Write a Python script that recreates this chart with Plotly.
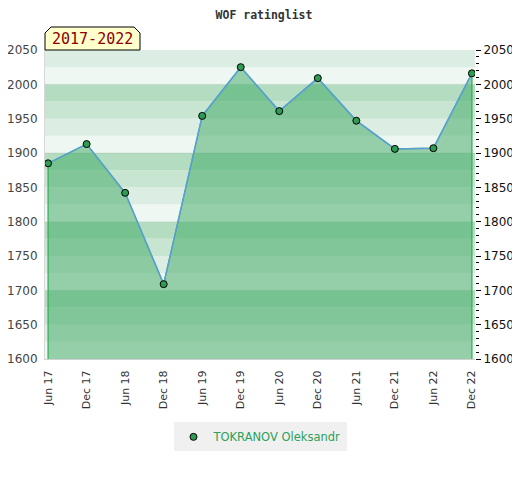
import plotly.graph_objects as go

periods = ["Jun 17", "Dec 17", "Jun 18", "Dec 18", "Jun 19", "Dec 19",
           "Jun 20", "Dec 20", "Jun 21", "Dec 21", "Jun 22", "Dec 22"]
ratings = [1885, 1913, 1842, 1709, 1954, 2025, 1961, 2009, 1947, 1906, 1907, 2016]
player = "TOKRANOV Oleksandr"
title_text = "WOF ratinglist"
period_label = "2017-2022"
y_min, y_max = 1600, 2050

fig = go.Figure()

# banded background
band_cols = ["#eef7f1", "#dcede3", "#c7e5d1", "#b3dcc0"]
shapes = []
v = y_min
i = 0
while v < y_max:
    shapes.append(dict(type="rect", xref="paper", yref="y", x0=0, x1=1, y0=v, y1=v + 25,
                       fillcolor=band_cols[i % 4], line=dict(width=0), layer="below"))
    v += 25
    i += 1
for g in range(1700, 2050, 100):
    shapes.append(dict(type="line", xref="paper", yref="y", x0=0, x1=1, y0=g, y1=g,
                       line=dict(color="rgba(0,0,0,0.07)", width=1), layer="below"))

# label box with clipped corners
shapes.append(dict(type="path", xref="paper", yref="paper",
                   path="M 0 1.0 L 0 1.055 L 0.014 1.0744 L 0.207 1.0744 L 0.2209 1.055 L 0.2209 1.0 Z",
                   fillcolor="#ffffcc", line=dict(color="black", width=1), layer="above"))

# filled area
fig.add_trace(go.Scatter(
    x=[periods[0]] + periods + [periods[-1]],
    y=[y_min] + ratings + [y_min],
    mode="lines", fill="toself", fillcolor="rgba(60,168,98,0.5)",
    line=dict(color="#2fae55", width=1.2), hoverinfo="skip", showlegend=False))

fig.add_trace(go.Scatter(x=periods, y=ratings, mode="lines",
                         line=dict(color="#5b9fd8", width=1.5), showlegend=False))

fig.add_trace(go.Scatter(x=periods, y=ratings, mode="markers", name=player,
                         marker=dict(size=7, color="#2e9b52", line=dict(color="black", width=1))))

# right axis duplicate
fig.add_trace(go.Scatter(x=periods, y=ratings, yaxis="y2", mode="markers",
                         marker=dict(opacity=0), showlegend=False, hoverinfo="skip"))

fig.update_layout(
    width=512, height=472,
    margin=dict(l=37, r=45, t=42, b=121, autoexpand=False),
    paper_bgcolor="white", plot_bgcolor="rgba(0,0,0,0)",
    title=dict(text="<b>" + title_text + "</b>", x=0.5, xanchor="center", y=0.986, yanchor="middle",
               font=dict(family="DejaVu Sans Mono", size=11.5, color="#333")),
    shapes=shapes,
    xaxis=dict(type="category", range=[-0.08, len(periods) - 1 + 0.08], automargin=False,
               showgrid=False, zeroline=False, showline=True, linecolor="#d0d0d0",
               tickangle=-90, ticks="outside", ticklen=6, tickcolor="rgba(0,0,0,0)",
               tickfont=dict(family="DejaVu Sans", size=11, color="#333")),
    yaxis=dict(range=[y_min, y_max], dtick=50, showgrid=False, zeroline=False, automargin=False,
               showline=True, linecolor="#d8d8d8", ticks="outside", ticklen=4, tickcolor="rgba(0,0,0,0)",
               tickfont=dict(family="DejaVu Sans", size=12, color="#444")),
    yaxis2=dict(range=[y_min, y_max], dtick=50, overlaying="y", side="right", automargin=False,
                showgrid=False, zeroline=False, showline=False,
                ticks="outside", ticklen=5, tickcolor="black",
                minor=dict(dtick=10, ticks="outside", ticklen=3, tickcolor="black"),
                tickfont=dict(family="DejaVu Sans", size=12, color="#111")),
    legend=dict(x=0.5, xanchor="center", y=-0.252, yanchor="middle", orientation="h",
                bgcolor="#f0f0f0", font=dict(family="DejaVu Sans", size=11.5, color="#2ca05a")),
    annotations=[dict(text=period_label, xref="paper", yref="paper", x=0.1105, y=1.037,
                      xanchor="center", yanchor="middle", showarrow=False,
                      font=dict(family="DejaVu Sans Mono", size=15, color="#8b0000"))],
)

fig.write_html("out.html")
